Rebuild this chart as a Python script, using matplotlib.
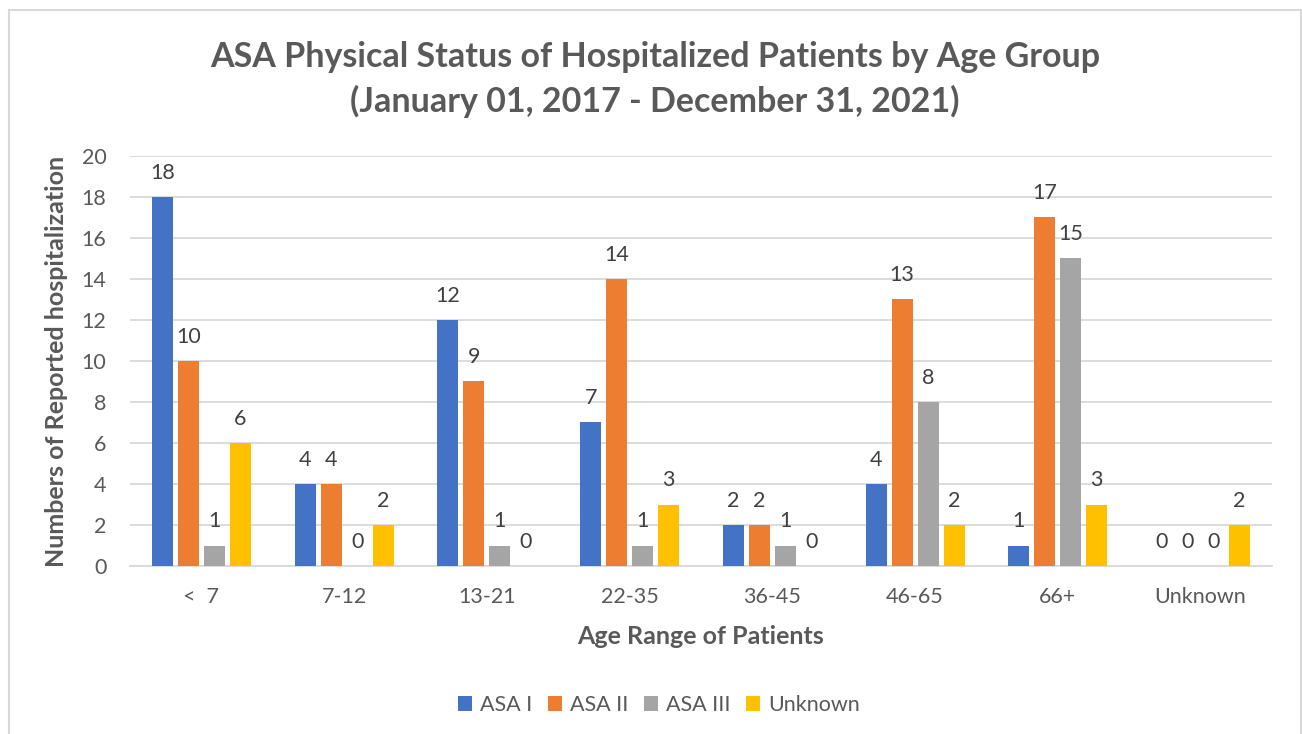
import matplotlib.pyplot as plt
import numpy as np
from matplotlib.patches import Rectangle

age_groups = ["<  7", "7-12", "13-21", "22-35", "36-45", "46-65", "66+", "Unknown"]
series_names = ["ASA I", "ASA II", "ASA III", "Unknown"]
asa_1 = [18, 4, 12, 7, 2, 4, 1, 0]
asa_2 = [10, 4, 9, 14, 2, 13, 17, 0]
asa_3 = [1, 0, 1, 1, 1, 8, 15, 0]
asa_unknown = [6, 2, 0, 3, 0, 2, 3, 2]
colors = ["#4472C4", "#ED7D31", "#A5A5A5", "#FFC000"]

plt.rcParams['font.family'] = ['Lato', 'DejaVu Sans']
text_col = "#595959"

fig = plt.figure(figsize=(13.02, 7.34), dpi=100)
# chart border
fig.patches.append(Rectangle((9 / 1302, -0.05), 1292 / 1302, 1 - 10 / 734 + 0.05,
                             transform=fig.transFigure, fill=False,
                             edgecolor="#d9d9d9", linewidth=1.5))

ax = fig.add_axes([130 / 1302, 1 - 566 / 734, 1142 / 1302, 410 / 734])
x = np.arange(len(age_groups))
step = 0.182
width = 0.147
all_series = [asa_1, asa_2, asa_3, asa_unknown]
for i, vals in enumerate(all_series):
    xs = x + (i - 1.5) * step
    ax.bar(xs, vals, width, color=colors[i], label=series_names[i], zorder=3)
    for xi, v in zip(xs, vals):
        ax.annotate(str(v), (xi, v), xytext=(0, 13), textcoords="offset points",
                    ha="center", va="baseline", fontsize=15.5, color="#404040")

ax.set_xlim(-0.5, len(age_groups) - 0.5)
ax.set_ylim(0, 20)
ax.set_yticks(range(0, 21, 2))
ax.set_xticks(x)
ax.set_xticklabels(age_groups)
ax.grid(axis="y", color="#d9d9d9", linewidth=1.3, zorder=0)
for s in ["top", "right", "left"]:
    ax.spines[s].set_visible(False)
ax.spines["bottom"].set_color("#d9d9d9")
ax.spines["bottom"].set_linewidth(1.3)
ax.tick_params(axis="both", length=0, labelsize=15.5, labelcolor=text_col)
ax.tick_params(axis="y", pad=17)
ax.tick_params(axis="x", pad=15)
ax.set_ylabel("Numbers of Reported hospitalization", fontsize=18, fontweight="bold",
              color=text_col, labelpad=10)
ax.set_xlabel("Age Range of Patients", fontsize=18, fontweight="bold", color=text_col,
              labelpad=13)

fig.text(655 / 1302, 1 - 57 / 734, "ASA Physical Status of Hospitalized Patients by Age Group",
         ha="center", va="center", fontsize=24.5, fontweight="bold", color=text_col)
fig.text(655 / 1302, 1 - 101 / 734, "(January 01, 2017 - December 31, 2021)",
         ha="center", va="center", fontsize=24.5, fontweight="bold", color=text_col)

fig.legend(loc="center", bbox_to_anchor=(659 / 1302, 1 - 705 / 734), ncol=4, frameon=False,
           fontsize=15.5, labelcolor=text_col, handlelength=0.65, handleheight=0.65,
           handletextpad=0.35, columnspacing=0.75)

fig.savefig("out.png", dpi=100)
